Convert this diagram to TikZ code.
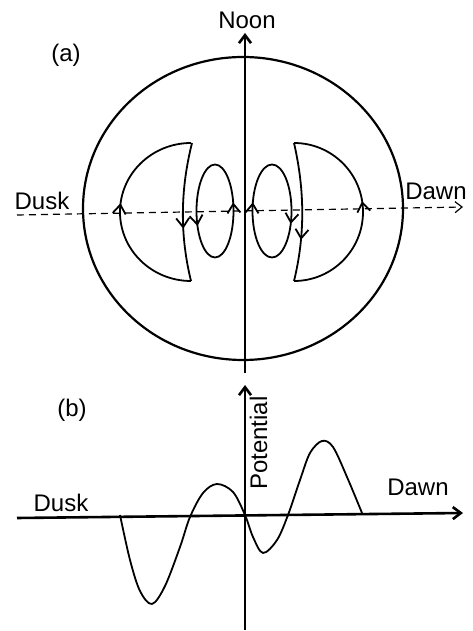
\documentclass[tikz,border=0pt]{standalone}
\usepackage{fontspec}
\setmainfont{Liberation Sans}
\usetikzlibrary{arrows.meta}
\usetikzlibrary{decorations.markings}

\tikzset{
  lbl/.style={font=\fontsize{24}{28}\selectfont,inner sep=0pt,anchor=base},
  rim/.style={line width=2.2pt},
  axisline/.style={line width=2.6pt,-{Straight Barb[length=8pt,width=12pt]}},
  loopline/.style={line width=1.8pt},
  flowtip/.tip={Straight Barb[length=9pt,width=13pt,line width=1.8pt]},
  flow/.style={postaction={decorate,decoration={markings,mark=at position #1 with {\arrow{flowtip}}}}},
}

\begin{document}
\begin{tikzpicture}[x=1pt,y=1pt]
\useasboundingbox (0,0) rectangle (473,631);
\coordinate (C) at (243,422.5);
\coordinate (noonB) at (245,258);
\coordinate (noonT) at (245,598);
\coordinate (duskA) at (17,416);
\coordinate (dawnA) at (463,424);
\draw[rim] (C) ellipse[x radius=160,y radius=151.5];
\draw[axisline] (noonB) -- (noonT);
\draw[line width=1.2pt,dash pattern=on 7pt off 5pt,-{Straight Barb[length=7pt,width=11pt]}] (duskA) -- (dawnA);
\node[lbl] (noon) at (247,602) {Noon};
\node[lbl] (pa) at (66,569) {(a)};
\node[lbl] (dusk1) at (42,421) {Dusk};
\node[lbl] (dawn1) at (436,431) {Dawn};
\draw[loopline,flow=0.54] (191,350) arc[start angle=270,end angle=90,x radius=71,y radius=69];
\draw[loopline,flow=0.62] (192,488) .. controls (180,440) and (180,395) .. (191,350);
\draw[loopline,flow=0.04,flow=0.57] (233.5,420) arc[start angle=0,end angle=360,x radius=18.5,y radius=46.5];
\draw[loopline,flow=0.04,flow=0.56] (252.5,420) arc[start angle=180,end angle=-180,x radius=19.5,y radius=46.5];
\draw[loopline,flow=0.55] (294,350) arc[start angle=-90,end angle=90,x radius=69,y radius=69];
\draw[loopline,flow=0.7] (294,488) .. controls (305,440) and (305,395) .. (294,350);
\coordinate (potB) at (245,1);
\coordinate (potT) at (245,246);
\coordinate (duskB) at (17,113);
\coordinate (dawnB) at (463,118);
\draw[axisline] (potB) -- (potT);
\draw[axisline] (duskB) -- (dawnB);
\node[lbl] (pb) at (72,214) {(b)};
\node[lbl] (dusk2) at (61,119) {Dusk};
\node[lbl] (dawn2) at (418,135) {Dawn};
\node[lbl,rotate=90,anchor=base west] (pot) at (267,141) {Potential};
\draw[loopline] plot[smooth,tension=0.55] coordinates {(120,116) (130,71) (140,40) (152,27)
  (165,45) (180,84) (190,114) (203,138) (217,147) (233,139) (245,116) (253,94) (263,78)
  (277,91) (288,116) (300,151) (310,178) (322,190) (333,184) (347,154) (362,118)};
\end{tikzpicture}
\end{document}
